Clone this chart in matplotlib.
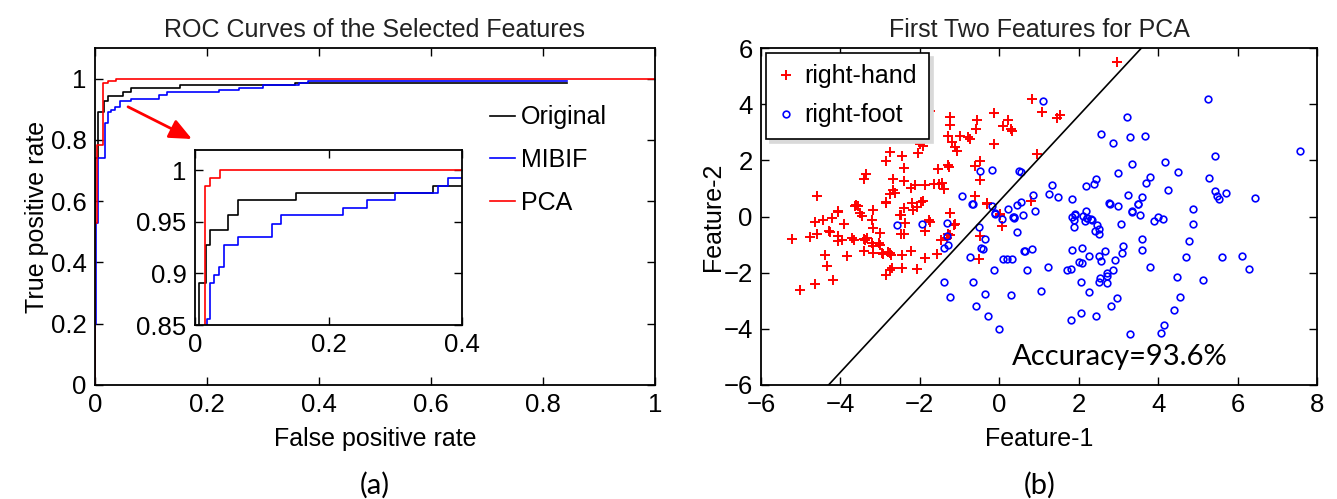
import matplotlib
matplotlib.use("Agg")
import matplotlib.pyplot as plt

# ---------------- data ----------------
# ROC curves (vertices of staircase, drawn with steps-post)
orig_fpr = [0, 0, 0.006, 0.0165, 0.0225, 0.05, 0.065, 0.151, 0.357, 0.843]
orig_tpr = [0, 0.74, 0.891, 0.927, 0.942, 0.956, 0.971, 0.978, 0.985, 0.985]

mibif_fpr = [0, 0, 0.002, 0.005, 0.018, 0.0225, 0.0285, 0.0365, 0.044, 0.065,
             0.115, 0.129, 0.221, 0.257, 0.2997, 0.3645, 0.3795, 0.843]
mibif_tpr = [0, 0.2, 0.53, 0.74, 0.856, 0.891, 0.898, 0.906, 0.927, 0.935,
             0.948, 0.956, 0.9635, 0.971, 0.978, 0.985, 0.992, 0.992]

pca_fpr = [0, 0, 0.004, 0.015, 0.0225, 0.0375, 1.0]
pca_tpr = [0, 0.53, 0.785, 0.985, 0.992, 1.0, 1.0]

roc_labels = ["Original", "MIBIF", "PCA"]

# Scatter: first two PCA features
hand = [
    (-5.22, -0.80), (-5.03, -2.61), (-4.63, -2.40), (-4.76, -0.74), (-4.58, -0.64),
    (-4.63, -0.20), (-4.44, -0.13), (-4.38, -1.36), (-4.34, -1.77), (-4.19, -2.25),
    (-4.30, -0.50), (-4.26, -0.55), (-4.06, 0.19), (-3.92, -0.25), (-4.05, -0.68),
    (-4.06, -0.88), (-3.95, -0.84), (-3.84, -1.42), (-3.70, -0.78), (-3.67, -0.83),
    (-3.60, 0.40), (-3.57, 0.36), (-3.50, 0.14), (-3.45, 0.03), (-3.40, -0.80),
    (-3.37, -0.82), (-3.33, -0.78), (-3.40, -1.24), (-3.21, -0.13), (-3.18, -0.40),
    (-3.17, 0.23), (-3.21, -0.95), (-3.18, -1.05), (-3.18, -1.30), (-3.00, -0.58),
    (-3.02, -0.95), (-3.00, -1.02), (-2.95, -1.30), (-2.92, -1.35), (-2.85, -2.07),
    (-2.80, -1.25), (-2.75, -1.30), (-2.73, -1.37), (-2.70, -1.83), (-2.74, -1.90),
    (-2.85, 0.51), (-2.49, 0.07), (-2.39, 0.31), (-2.37, -0.23), (-2.47, -0.62),
    (-2.39, -0.62), (-2.45, -1.36), (-2.45, -1.83), (-2.22, -1.24), (-2.07, -1.87),
    (-1.88, -1.48), (-1.86, -0.52), (-1.78, -0.12), (-1.74, -0.18), (-2.17, 0.22),
    (-2.07, 0.35), (-1.96, 0.53), (-1.92, 0.55), (-1.57, -1.33), (-1.47, -0.85),
    (-1.32, -0.75), (-1.28, -0.62), (-1.25, -0.66), (-1.14, -0.32), (-1.12, -0.27),
    (-1.25, 0.13), (-0.52, -1.51), (-0.48, -0.70), (-0.31, 0.49), (0.03, 0.07),
    (0.07, -0.35),
    (-4.60, 0.73), (-2.77, 2.87), (-2.75, 2.28), (-2.45, 2.15), (-2.85, 1.98),
    (-2.39, 1.71), (-3.36, 1.50), (-3.40, 1.32), (-2.68, 1.35), (-2.41, 1.26),
    (-2.67, 0.93), (-2.62, 0.85), (-2.75, 0.79), (-2.22, 1.00), (-2.12, 1.12),
    (-1.86, 1.12), (-1.65, 1.17), (-1.51, 1.14), (-1.44, 1.20), (-1.38, 0.99),
    (-1.74, 3.76), (-1.88, 3.25), (-1.99, 2.58), (-1.93, 2.50), (-2.04, 2.25),
    (-1.54, 1.68), (-1.26, 1.75), (-1.30, 1.85), (-1.25, 3.56), (-1.23, 3.25),
    (-1.28, 2.87), (-1.18, 2.64), (-1.11, 2.46), (-1.07, 2.33), (-0.98, 2.87),
    (-0.78, 2.82), (-0.74, 2.76), (-0.56, 3.43), (-0.58, 3.11), (-0.48, 1.98),
    (-0.60, 1.80), (-0.48, 1.29), (-0.60, 0.73), (-0.31, 0.46), (-0.13, 3.68),
    (-0.14, 2.57), (0.10, 3.23), (0.23, 3.43), (0.30, 3.11), (0.32, 3.05),
    (-3.63, 0.39), (-4.06, 0.17), (-2.85, 0.49), (-2.47, 0.07), (-1.23, 0.14),
    (-2.19, 0.49), (-4.20, -0.05),
    (2.96, 5.51), (0.82, 4.18), (1.07, 3.71), (1.45, 3.52), (1.53, 3.62),
    (0.95, 2.21), (0.80, 0.55), (0.03, 0.10),
]
foot = [
    (-0.94, 0.73), (-0.66, 0.46), (-0.48, 1.62), (-0.18, 1.65), (-0.18, 0.37),
    (-0.10, 0.14), (0.23, 0.25), (0.45, 0.40), (0.50, 1.62), (0.35, 0.00),
    (1.09, 4.10), (5.26, 4.18), (3.22, 3.55), (2.56, 2.95), (2.86, 2.60),
    (3.30, 2.83), (3.66, 2.87), (7.58, 2.33), (5.42, 2.15), (3.34, 1.86),
    (4.18, 1.95), (4.50, 1.60), (2.99, 1.56), (0.55, 1.60), (3.80, 1.42),
    (3.69, 1.20), (2.44, 1.35), (2.39, 1.14), (2.18, 1.08), (1.33, 1.12),
    (1.26, 0.81), (1.47, 0.70), (0.84, 0.76), (1.83, 0.64), (2.77, 0.49),
    (3.00, 0.37), (3.23, 0.76), (3.59, 0.70), (3.49, 0.45), (4.26, 0.96),
    (5.29, 1.38), (5.42, 0.90), (5.47, 0.72), (5.52, 0.64), (5.72, 0.84),
    (6.43, 0.67), (4.87, 0.27), (0.55, 0.52), (0.60, 0.05), (0.89, 0.19),
    (0.36, -0.03), (1.83, -0.03), (1.91, 0.10), (2.19, 0.19), (2.20, -0.05),
    (2.30, -0.10), (3.34, 0.19), (3.55, 0.04), (4.00, -0.03), (4.11, -0.08),
    (-2.58, -0.29), (-1.95, -0.26), (-1.32, -0.23), (-1.32, -0.70), (-1.30, -1.02),
    (-1.40, -1.12), (-0.69, 0.43), (-0.50, -0.38), (-0.37, -0.80), (-0.47, -1.12),
    (-0.40, -1.16), (-0.73, -1.44), (-0.13, -1.92), (-1.40, -2.35), (-1.23, -2.87),
    (-0.65, -2.35), (-0.58, -3.20), (-0.35, -2.76), (-0.29, -3.56), (0.00, -4.00),
    (-0.10, 0.10), (0.07, -0.08), (0.38, -0.07), (0.45, -0.55), (0.10, -1.53),
    (0.20, -1.50), (0.32, -1.53), (0.30, -2.79),
    (0.61, -1.24), (0.66, -1.22), (0.82, -1.15), (0.70, -1.89), (1.22, -1.80),
    (1.05, -2.64), (1.89, -0.13), (1.91, 0.07), (1.89, -0.37), (2.22, -0.05),
    (2.17, -0.17), (2.12, 0.01), (2.33, -0.13), (2.46, -0.32), (2.50, -0.44),
    (2.42, -0.52), (2.50, -0.64), (1.83, -1.18), (2.08, -1.12), (2.25, -1.42),
    (2.00, -1.62), (2.08, -1.66), (1.71, -1.89), (1.80, -1.86), (2.06, -2.35),
    (2.27, -2.69), (2.07, -3.42), (1.80, -3.68), (2.44, -3.56), (2.50, -1.42),
    (2.56, -1.60), (2.67, -1.24), (2.92, -1.54), (2.86, -1.89), (2.70, -2.01),
    (2.70, -2.13), (2.54, -2.19), (2.70, -2.37), (2.50, -2.35), (2.96, -2.90),
    (2.82, -3.17), (2.78, 0.46), (3.07, -0.26), (3.11, -1.06), (3.09, -1.30),
    (3.34, 0.17), (3.49, 0.43), (3.59, -0.79), (3.59, -1.18), (3.89, -0.17),
    (3.80, -1.80), (3.30, -4.18), (4.06, -4.15), (4.14, -3.88), (4.39, -3.32),
    (4.56, -2.87), (4.48, -2.17), (4.70, -1.45), (4.77, -0.88), (4.89, -0.26),
    (5.12, -2.25), (5.61, -1.44), (6.11, -1.39), (6.30, -1.86),
]
hand_x = [p[0] for p in hand]
hand_y = [p[1] for p in hand]
foot_x = [p[0] for p in foot]
foot_y = [p[1] for p in foot]

boundary_x = [-4.30, 3.58]
boundary_y = [-6.0, 6.0]

scatter_labels = ["right-hand", "right-foot"]
accuracy_text = "Accuracy=93.6%"

# ---------------- style ----------------
plt.rcParams["font.family"] = ["Liberation Sans", "DejaVu Sans"]
FS = 18
TFS = 18.5

W, H = 1337, 499
fig = plt.figure(figsize=(W / 100, H / 100), dpi=100)


def fr(x0, y0, x1, y1):
    return [x0 / W, 1 - y1 / H, (x1 - x0) / W, (y1 - y0) / H]


def style_axes(ax, fs=TFS):
    for s in ax.spines.values():
        s.set_linewidth(1.3)
    ax.tick_params(direction="in", top=True, right=True, length=6, width=1.0,
                   labelsize=fs, pad=6)


# ---------------- (a) ROC ----------------
ax1 = fig.add_axes(fr(95, 48, 655, 385))
colors = ["black", "blue", "red"]
curves = [(orig_fpr, orig_tpr), (mibif_fpr, mibif_tpr), (pca_fpr, pca_tpr)]
for (fx, ty), c, lab in zip(curves, colors, roc_labels):
    ax1.plot(fx, ty, drawstyle="steps-post", color=c, lw=1.2, label=lab)
ax1.set_xlim(0, 1)
ax1.set_ylim(0, 1.1)
ax1.set_xticks([0, 0.2, 0.4, 0.6, 0.8, 1])
ax1.set_xticklabels(["0", "0.2", "0.4", "0.6", "0.8", "1"])
ax1.set_yticks([0, 0.2, 0.4, 0.6, 0.8, 1])
ax1.set_yticklabels(["0", "0.2", "0.4", "0.6", "0.8", "1"])
style_axes(ax1)
ax1.set_xlabel("False positive rate", fontsize=FS, labelpad=7)
ax1.set_ylabel("True positive rate", fontsize=FS, labelpad=1)
ax1.set_title("ROC Curves of the Selected Features", fontsize=FS, pad=8,
              color="#222222")
leg1 = ax1.legend(loc="upper left", bbox_to_anchor=(0.705, 0.83), frameon=False,
                  fontsize=FS, handlelength=1.0, handletextpad=0.25,
                  labelspacing=0.75, borderpad=0, borderaxespad=0)

ax1.annotate("", xy=(0.173, 0.803), xytext=(0.059, 0.908),
             arrowprops=dict(arrowstyle="-|>,head_length=0.9,head_width=0.4",
                             color="red", lw=2.0, mutation_scale=15,
                             shrinkA=0, shrinkB=0))

# inset
ax_in = fig.add_axes(fr(195, 150, 462, 325))
for (fx, ty), c in zip(curves, colors):
    ax_in.plot(fx, ty, drawstyle="steps-post", color=c, lw=1.2)
ax_in.set_xlim(0, 0.4)
ax_in.set_ylim(0.85, 1.0194)
ax_in.set_xticks([0, 0.2, 0.4])
ax_in.set_xticklabels(["0", "0.2", "0.4"])
ax_in.set_yticks([0.85, 0.9, 0.95, 1.0])
ax_in.set_yticklabels(["0.85", "0.9", "0.95", "1"])
style_axes(ax_in)

# ---------------- (b) scatter ----------------
ax2 = fig.add_axes(fr(761, 48, 1317, 385))
ax2.plot(hand_x, hand_y, "+", color="red", ms=6.5, mew=1.4, ls="none",
         label=scatter_labels[0])
ax2.plot(foot_x, foot_y, "o", mfc="none", mec="blue", ms=4.8, mew=1.2, ls="none",
         label=scatter_labels[1])
ax2.plot(boundary_x, boundary_y, color="black", lw=1.2)
ax2.set_xlim(-6, 8)
ax2.set_ylim(-6, 6)
ax2.set_xticks([-6, -4, -2, 0, 2, 4, 6, 8])
ax2.set_yticks([-6, -4, -2, 0, 2, 4, 6])
style_axes(ax2)
ax2.set_xlabel("Feature-1", fontsize=FS, labelpad=7)
ax2.set_ylabel("Feature-2", fontsize=FS, labelpad=-1)
ax2.set_title("First Two Features for PCA", fontsize=FS, pad=8, color="#222222")
leg2 = ax2.legend(loc="upper left", bbox_to_anchor=(0.0, 1.0), fontsize=FS,
                  handlelength=0.7, handletextpad=0.4, labelspacing=0.6,
                  borderpad=0.45, borderaxespad=0.2, fancybox=False,
                  edgecolor="black", framealpha=1,
                  shadow={"ox": 3, "oy": -3, "color": "0.85", "alpha": 1})
leg2.get_frame().set_linewidth(1.2)
ax2.text(0.33, -5.0, accuracy_text, fontsize=21, family=["Lato", "DejaVu Sans"],
         ha="left", va="center")

# panel letters
fig.text(375 / W, 1 - 485 / H, "(a)", fontsize=21, family=["Lato", "DejaVu Sans"],
         ha="center", va="center")
fig.text(1040 / W, 1 - 485 / H, "(b)", fontsize=21, family=["Lato", "DejaVu Sans"],
         ha="center", va="center")

fig.savefig("out.png", dpi=100)
